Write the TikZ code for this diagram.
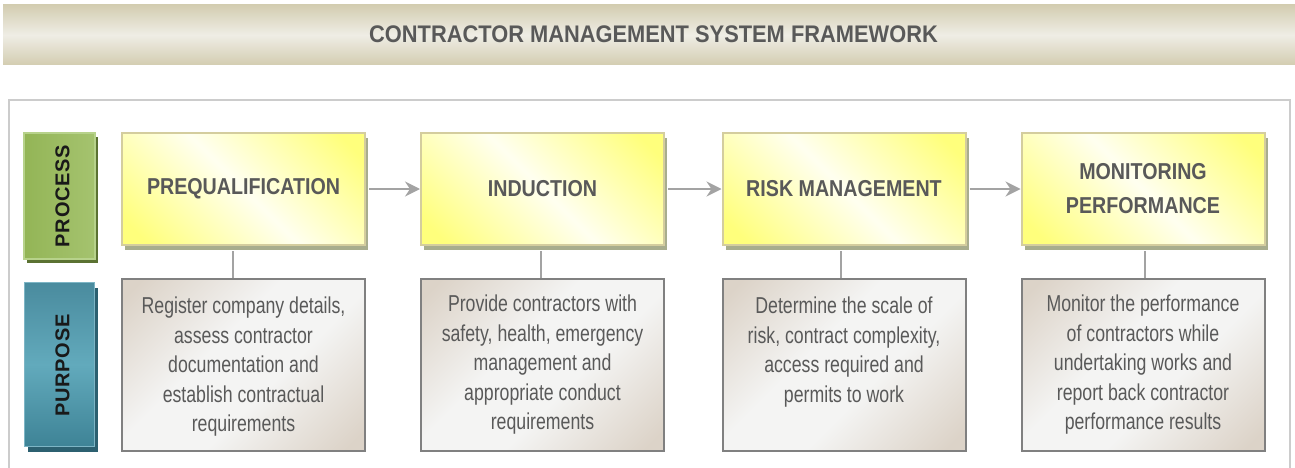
\documentclass[tikz,border=0pt]{standalone}
\usepackage{fontspec}
\setmainfont{Liberation Sans}
\newfontfamily\titlefont[FakeStretch=0.91]{Liberation Sans}
\newfontfamily\headfont[FakeStretch=0.855]{Liberation Sans}
\newfontfamily\bodyfont[FakeStretch=0.77]{Liberation Sans}
\newfontfamily\labelfont[LetterSpace=4]{Liberation Sans}
\usetikzlibrary{arrows.meta,shadows,calc}
\definecolor{txt}{HTML}{595959}
\definecolor{barA}{HTML}{D3CDB1}
\definecolor{barB}{HTML}{EFEDE5}
\definecolor{framec}{HTML}{CCCCCC}
\definecolor{yb}{HTML}{FFFF7C}
\definecolor{yw}{HTML}{FFFFF0}
\definecolor{yborder}{HTML}{D4CD9E}
\definecolor{yshadow}{HTML}{A8AD8D}
\definecolor{gtan}{HTML}{DCD3C8}
\definecolor{glight}{HTML}{F4F4F3}
\definecolor{gborder}{HTML}{808080}
\definecolor{conngray}{HTML}{A3A3A3}
\definecolor{pg1}{HTML}{93B556}
\definecolor{pg2}{HTML}{A5C36F}
\definecolor{pgborder}{HTML}{B7D28B}
\definecolor{pshadow}{HTML}{5B7232}
\definecolor{ul1}{HTML}{4A8B9E}
\definecolor{ul2}{HTML}{62AABC}
\definecolor{ul3}{HTML}{3E8396}
\definecolor{ulborder}{HTML}{7DB5C5}
\definecolor{ushadow}{HTML}{2C6070}
\pgfdeclarehorizontalshading{yelshade}{100bp}{color(0bp)=(yb); color(20bp)=(yb); color(50bp)=(yw); color(80bp)=(yb); color(100bp)=(yb)}
\pgfdeclarehorizontalshading{grayshade}{100bp}{color(0bp)=(gtan); color(18bp)=(gtan); color(42bp)=(glight); color(58bp)=(glight); color(82bp)=(gtan); color(100bp)=(gtan)}
\tikzset{
  ybox/.style={draw=yborder, line width=2pt, shading=yelshade, shading angle=45,
    minimum width=243pt, minimum height=112pt, inner sep=0pt, align=center, text=txt,
    font=\headfont\bfseries\fontsize{23}{34}\selectfont,
    general shadow={fill=yshadow, shadow xshift=3pt, shadow yshift=-5pt}},
  gbox/.style={draw=gborder, line width=2pt, shading=grayshade, shading angle=-45,
    minimum width=243pt, minimum height=172pt, inner sep=0pt},
  gtext/.style={align=center, text=txt, font=\bodyfont\fontsize{23}{29.5}\selectfont,
    inner sep=0pt, anchor=north},
  plab/.style={draw=pgborder, line width=1.5pt, left color=pg1, right color=pg2,
    minimum width=71pt, minimum height=126pt, inner sep=0pt,
    general shadow={fill=pshadow, shadow xshift=3pt, shadow yshift=-4pt}},
  ulab/.style={draw=ulborder, line width=1.2pt, top color=ul1, bottom color=ul3, middle color=ul2,
    minimum width=70pt, minimum height=164pt, inner sep=0pt,
    general shadow={fill=ushadow, shadow xshift=3pt, shadow yshift=-5pt}},
  labtext/.style={rotate=90, inner sep=0pt, text=black!90, font=\labelfont\bfseries\fontsize{20}{24}\selectfont},
  conn/.style={draw=conngray, line width=2pt},
  arr/.style={draw=conngray, line width=2pt, -{Stealth[length=15pt,width=15pt,inset=5pt]}}
}
\begin{document}
\begin{tikzpicture}[x=1pt,y=-1pt]
\useasboundingbox (0,0) rectangle (1295,468);
% title bar
\path[top color=barA, bottom color=barA, middle color=barB] (3,5) rectangle (1295,65);
\node[text=txt, font=\titlefont\bfseries\fontsize{24}{28}\selectfont, inner sep=0pt] (title) at (653.5,34) {CONTRACTOR MANAGEMENT SYSTEM FRAMEWORK};
% frame
\draw[framec, line width=1.5pt] (9,100) rectangle (1290,500);
% side labels
\node[plab] (plabel) at (59.5,196) {};
\node[labtext] (ptext) at ([xshift=3pt]plabel.center) {PROCESS};
\node[ulab] (ulabel) at (59.5,364.5) {};
\node[labtext] (utext) at ([xshift=3pt,yshift=-1pt]ulabel.center) {PURPOSE};
% process boxes
\node[ybox] (p1) at (243.5,189) {\raisebox{-2pt}{PREQUALIFICATION}};
\node[ybox] (p2) at (542.5,189) {\raisebox{-2pt}{INDUCTION}};
\node[ybox] (p3) at (844,189) {\raisebox{-2pt}{RISK MANAGEMENT}};
\node[ybox] (p4) at (1143,189) {MONITORING\\PERFORMANCE};
% purpose boxes
\node[gbox] (q1) at (243.5,365) {};
\node[gbox] (q2) at (542.5,365) {};
\node[gbox] (q3) at (844,365) {};
\node[gbox] (q4) at (1143,365) {};
\node[gtext] (t1) at ($(q1.north)+(0,19)$) {Register company details,\\assess contractor\\documentation and\\establish contractual\\requirements};
\node[gtext] (t2) at ($(q2.north)+(0,17)$) {Provide contractors with\\safety, health, emergency\\management and\\appropriate conduct\\requirements};
\node[gtext] (t3) at ($(q3.north)+(0,19)$) {Determine the scale of\\risk, contract complexity,\\access required and\\permits to work};
\node[gtext] (t4) at ($(q4.north)+(0,17)$) {Monitor the performance\\of contractors while\\undertaking works and\\report back contractor\\performance results};
% arrows
\draw[arr] ([xshift=3pt]p1.east) -- (p2.west);
\draw[arr] ([xshift=3pt]p2.east) -- (p3.west);
\draw[arr] ([xshift=3pt]p3.east) -- (p4.west);
% vertical connectors
\coordinate (v1) at (233,0);
\coordinate (v2) at (541,0);
\coordinate (v3) at (841,0);
\coordinate (v4) at (1145,0);
\draw[conn] ($(v1 |- p1.south)+(0,5)$) -- (v1 |- q1.north);
\draw[conn] ($(v2 |- p2.south)+(0,5)$) -- (v2 |- q2.north);
\draw[conn] ($(v3 |- p3.south)+(0,5)$) -- (v3 |- q3.north);
\draw[conn] ($(v4 |- p4.south)+(0,5)$) -- (v4 |- q4.north);
\end{tikzpicture}
\end{document}
